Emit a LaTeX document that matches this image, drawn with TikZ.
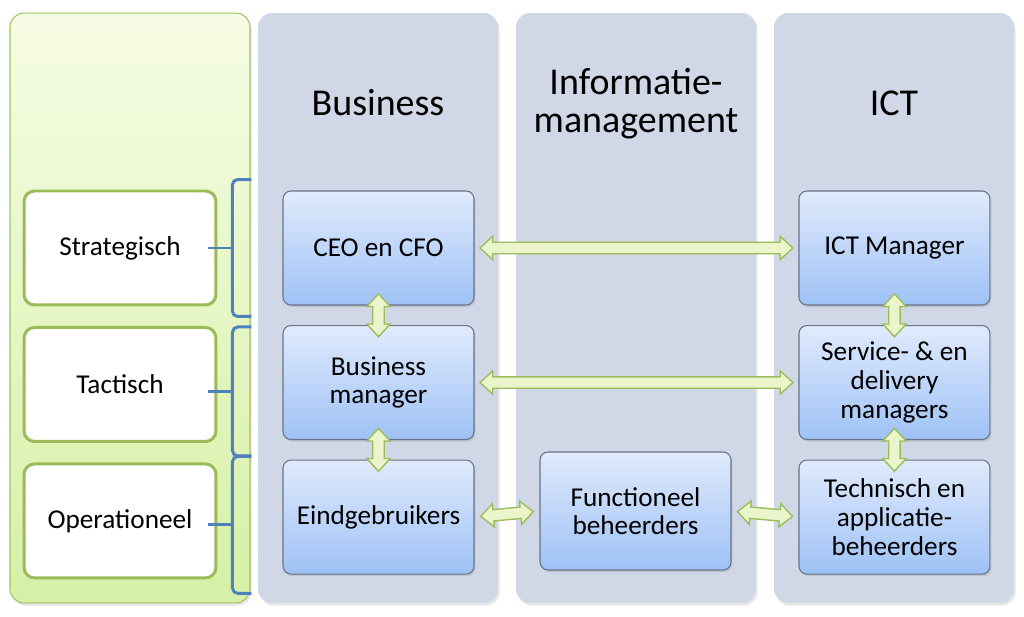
\documentclass[tikz,border=0pt]{standalone}
\usepackage{fontspec}
\setmainfont{Carlito}
\usetikzlibrary{shapes,positioning,calc,shadows}

\definecolor{lanefill}{RGB}{208,216,232}
\definecolor{greentop}{RGB}{246,252,228}
\definecolor{greenbot}{RGB}{214,240,166}
\definecolor{greenline}{RGB}{160,196,96}
\definecolor{layerline}{RGB}{155,187,89}
\definecolor{boxtop}{RGB}{224,234,252}
\definecolor{boxbot}{RGB}{158,194,246}
\definecolor{boxline}{RGB}{105,115,135}
\definecolor{bracecol}{RGB}{79,129,189}
\definecolor{arrowfill}{RGB}{234,245,204}
\definecolor{arrowline}{RGB}{155,190,90}

\begin{document}
\begin{tikzpicture}[
        x=0.02cm, y=-0.02cm,
        node distance=.39cm and 6.48cm,
        every node/.style={align=center, font=\fontsize{15.5}{16.3}\selectfont},
        lane/.style={rounded corners=8pt, fill=lanefill, minimum width=4.8cm, minimum height=11.8cm,
            drop shadow={opacity=0.2, shadow xshift=1pt, shadow yshift=-1.5pt}},
        header/.style={font=\fontsize{21.6}{21.6}\selectfont},
        rolebox/.style={draw=boxline, line width=0.6pt, rounded corners=4.5pt, top color=boxtop, bottom color=boxbot,
            minimum width=3.82cm, minimum height=2.28cm,
            drop shadow={opacity=0.25, shadow xshift=0.8pt, shadow yshift=-1.2pt}},
        layerbox/.style={draw=layerline, line width=1.7pt, rounded corners=6pt, fill=white,
            minimum width=3.84cm, minimum height=2.28cm},
        lvlbrace/.style={draw=bracecol, line width=1.7pt, rounded corners=3pt},
        blockarrow/.style={double arrow, draw=arrowline, fill=arrowfill, line width=0.8pt,
            inner xsep=0pt, inner ysep=2.85pt, minimum width=0pt,
            double arrow head extend=3.4pt, double arrow tip angle=85}
    ]
    \useasboundingbox (0,0) rectangle (1024,617);

    % Lanes
    \node (lvlLane) [lane, fill=none, top color=greentop, bottom color=greenbot, draw=greenline, line width=0.6pt] at (130,308) {};
    \node (busLane) [lane] at (378,308) {};
    \node (infLane) [lane] at (636,308) {};
    \node (ictLane) [lane] at (894,308) {};

    \node (busHead) [header] at (378,103) {Business};
    \node (infHead) [header] at (636,104) {Informatie-\\management};
    \node (ictHead) [header] at (894,103) {ICT};

    % Nodes
    \node (strat) [layerbox] at (120,248) {Strategisch};
    \node (tact) [layerbox, below=of strat] {Tactisch};
    \node (oper) [layerbox, below=of tact] {Operationeel};

    \node (ceo) [rolebox] at (378.5,248) {CEO en CFO};
    \node (bman) [rolebox, below=of ceo] {Business\\manager};
    \node (eind) [rolebox, below=of bman] {Eindgebruikers};

    \node (ictm) [rolebox, right=of ceo] {ICT Manager};
    \node (serv) [rolebox, below=of ictm] {Service- \& en\\delivery\\managers};
    \node (tech) [rolebox, below=of serv] {Technisch en\\applicatie-\\beheerders};

    \node (func) [rolebox, minimum height=2.36cm] at (635.5,511) {Functioneel\\beheerders};

    % Braces
    \draw[lvlbrace] ($(strat.north east)+(34,-10)$) -| ($(strat.south east)+(15,10)$) -- ++(19,0);
    \draw[lvlbrace] ($(strat.east)+(-9,0)$) -- ++(24,0);
    \draw[lvlbrace] ($(tact.north east)+(34,1)$) -| ($(tact.south east)+(15,13)$) -- ++(19,0);
    \draw[lvlbrace] ($(tact.east)+(-9,7)$) -- ++(24,0);
    \draw[lvlbrace] ($(oper.north east)+(34,-6)$) -| ($(oper.south east)+(15,14)$) -- ++(19,0);
    \draw[lvlbrace] ($(oper.east)+(-9,4)$) -- ++(24,0);

    % Edges
    \path let \p1=($(ictm.west)-(ceo.east)$), \n1={veclen(\x1,\y1)} in
        (ceo.east) -- (ictm.west) node[blockarrow, midway, sloped, minimum height=\n1-0.22cm] {};
    \path let \p1=($(serv.west)-(bman.east)$), \n1={veclen(\x1,\y1)} in
        (bman.east) -- (serv.west) node[blockarrow, midway, sloped, minimum height=\n1-0.22cm] {};
    \path let \p1=($(func.west)-(eind.east)$), \n1={veclen(\x1,\y1)} in
        (eind.east) -- (func.west) node[blockarrow, midway, sloped, minimum height=\n1-0.25cm] {};
    \path let \p1=($(tech.west)-(func.east)$), \n1={veclen(\x1,\y1)} in
        (func.east) -- (tech.west) node[blockarrow, midway, sloped, minimum height=\n1-0.24cm] {};

    \path let \p1=($(bman.north)-(ceo.south)$), \n1={veclen(\x1,\y1)} in
        (ceo.south) -- (bman.north) node[blockarrow, midway, sloped, minimum height=\n1+0.47cm] {};
    \path let \p1=($(eind.north)-(bman.south)$), \n1={veclen(\x1,\y1)} in
        (bman.south) -- (eind.north) node[blockarrow, midway, sloped, minimum height=\n1+0.47cm] {};
    \path let \p1=($(serv.north)-(ictm.south)$), \n1={veclen(\x1,\y1)} in
        (ictm.south) -- (serv.north) node[blockarrow, midway, sloped, minimum height=\n1+0.47cm] {};
    \path let \p1=($(tech.north)-(serv.south)$), \n1={veclen(\x1,\y1)} in
        (serv.south) -- (tech.north) node[blockarrow, midway, sloped, minimum height=\n1+0.47cm] {};

\end{tikzpicture}
\end{document}
